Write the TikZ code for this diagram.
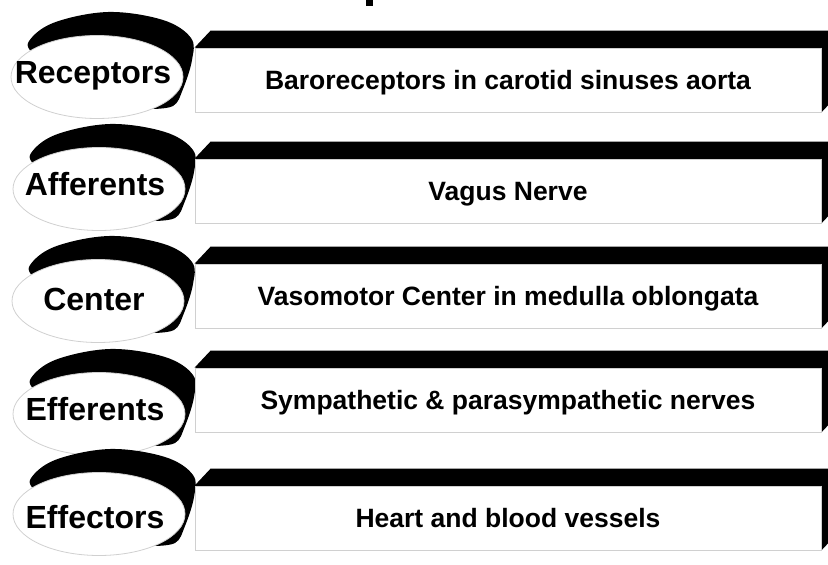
\documentclass[tikz,border=0pt]{standalone}
\usepackage{fontspec}
\setmainfont{Liberation Sans}
\usepackage{tikz}
\usetikzlibrary{calc,backgrounds}
\usepackage{xcolor}
\definecolor{rimgrey}{RGB}{208,208,208}
\definecolor{edgegrey}{RGB}{150,150,150}
\newcommand{\panelback}[1]{%
  \fill[black] (#1.north west) -- ++(16,-17) -- ($(#1.north east)+(16,-17)$)
    -- ($(#1.south east)+(16,-17)$) -- (#1.south east) -- cycle;
  \draw[edgegrey,line width=.8pt] (#1.north east) -- (#1.south east);}
\newcommand{\stageback}[2][5]{%
  \begin{scope}[shift={($(#2.center)+(4,#1)$)}]
    \fill[black] plot[smooth,tension=.6] coordinates {(-60,-20) (-69,-34)
      (-44,-54) (11,-65) (66,-57) (94,-39) (95,-17) (86,12) (76,29) (51,32)}
      -- (0,0) -- cycle;
    \filldraw[draw=rimgrey,fill=white,line width=.8pt]
      (0,0) ellipse [x radius=86, y radius=41.5];
  \end{scope}}
\tikzset{
  stage/.style={inner sep=0pt,font=\fontsize{32}{33}\selectfont\bfseries,
                text height=23pt,text depth=0pt},
  panel/.style={rectangle,draw=rimgrey,fill=white,line width=.8pt,
                minimum width=626pt,minimum height=64pt,inner sep=0pt,
                font=\fontsize{26.5}{27}\selectfont\bfseries,
                text height=19pt,text depth=0pt},
}

\begin{document}
\begin{tikzpicture}[x=1pt,y=-1pt]
  \useasboundingbox (0,0) rectangle (828,565);
  \fill (366,0) rectangle (373,6);
  \node[stage] (rec) at (93,72) {Receptors};
  \node[stage] (aff) at (95,184) {Afferents};
  \node[stage] (cen) at (94,299) {Center};
  \node[stage] (eff) at (95,409) {Efferents};
  \node[stage] (efc) at (95,517) {Effectors};
  \node[panel] (rec box) at (508,80) {Baroreceptors in carotid sinuses aorta};
  \node[panel] (aff box) at (508,191) {Vagus Nerve};
  \node[panel] (cen box) at (508,296) {Vasomotor Center in medulla oblongata};
  \node[panel] (eff box) at (508,400) {Sympathetic \& parasympathetic nerves};
  \node[panel] (efc box) at (508,518) {Heart and blood vessels};
  \begin{scope}[on background layer]
    \stageback{rec} \stageback{aff} \stageback[2]{cen} \stageback{eff}
    \stageback[-3]{efc}
    \panelback{rec box} \panelback{aff box} \panelback{cen box}
    \panelback{eff box} \panelback{efc box}
  \end{scope}
\end{tikzpicture}
\end{document}
